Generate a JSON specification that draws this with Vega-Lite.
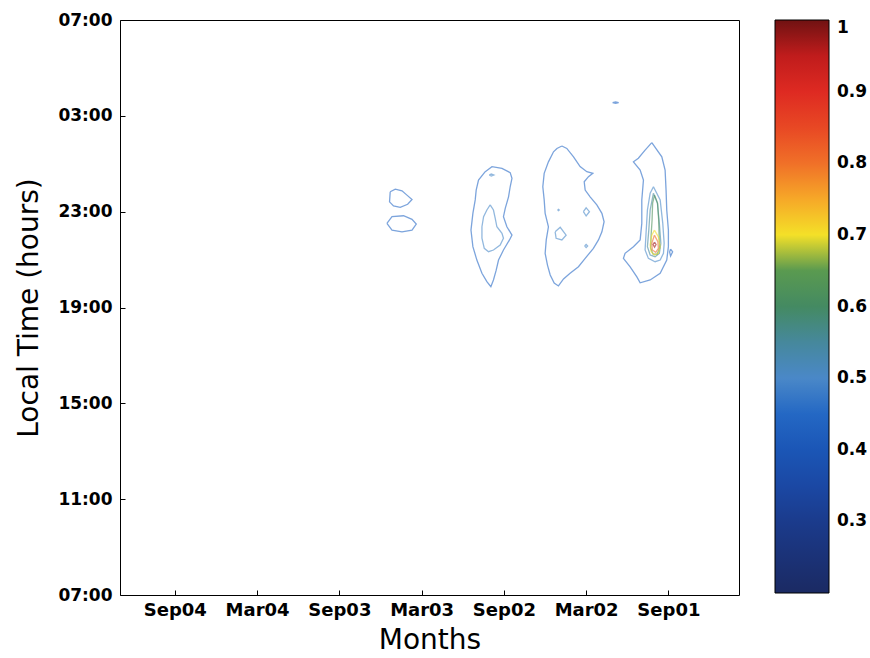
{
  "$schema": "https://vega.github.io/schema/vega-lite/v6.json",
  "autosize": "none",
  "padding": {"left": 120, "top": 20, "right": 131, "bottom": 63},
  "width": 619,
  "height": 575,
  "background": "white",
  "config": {
    "view": {"stroke": "#000", "strokeWidth": 1},
    "axis": {
      "labelFont": "DejaVu Sans", "labelFontWeight": "bold", "labelFontSize": 17, "labelColor": "#000",
      "titleFont": "DejaVu Sans", "titleFontWeight": "normal", "titleFontSize": 28, "titleColor": "#000",
      "tickColor": "#000", "grid": false, "domain": false
    }
  },
  "data": {"values": [
    {"c":"A1","v":0.45,"i":0,"m":28.29,"h":23.83},{"c":"A1","v":0.45,"i":1,"m":27.92,"h":23.94},{"c":"A1","v":0.45,"i":2,"m":27.43,"h":23.87},{"c":"A1","v":0.45,"i":3,"m":27.07,"h":23.69},{"c":"A1","v":0.45,"i":4,"m":26.70,"h":23.51},{"c":"A1","v":0.45,"i":5,"m":27.02,"h":23.31},{"c":"A1","v":0.45,"i":6,"m":27.56,"h":23.18},{"c":"A1","v":0.45,"i":7,"m":28.05,"h":23.24},{"c":"A1","v":0.45,"i":8,"m":28.34,"h":23.41},{"c":"A1","v":0.45,"i":9,"m":28.29,"h":23.83},
    {"c":"A2","v":0.45,"i":0,"m":28.53,"h":22.51},{"c":"A2","v":0.45,"i":1,"m":28.16,"h":22.79},{"c":"A2","v":0.45,"i":2,"m":27.32,"h":22.83},{"c":"A2","v":0.45,"i":3,"m":26.70,"h":22.68},{"c":"A2","v":0.45,"i":4,"m":26.39,"h":22.48},{"c":"A2","v":0.45,"i":5,"m":26.70,"h":22.23},{"c":"A2","v":0.45,"i":6,"m":27.43,"h":22.16},{"c":"A2","v":0.45,"i":7,"m":28.16,"h":22.23},{"c":"A2","v":0.45,"i":8,"m":28.53,"h":22.51},
    {"c":"B1","v":0.45,"i":0,"m":21.36,"h":24.67},{"c":"B1","v":0.45,"i":1,"m":20.87,"h":24.88},{"c":"B1","v":0.45,"i":2,"m":20.14,"h":24.81},{"c":"B1","v":0.45,"i":3,"m":19.54,"h":24.63},{"c":"B1","v":0.45,"i":4,"m":19.41,"h":24.39},{"c":"B1","v":0.45,"i":5,"m":19.54,"h":24.04},{"c":"B1","v":0.45,"i":6,"m":19.66,"h":23.62},{"c":"B1","v":0.45,"i":7,"m":19.90,"h":23.14},{"c":"B1","v":0.45,"i":8,"m":20.03,"h":22.79},{"c":"B1","v":0.45,"i":9,"m":19.78,"h":22.37},{"c":"B1","v":0.45,"i":10,"m":19.41,"h":22.02},{"c":"B1","v":0.45,"i":11,"m":19.59,"h":21.82},{"c":"B1","v":0.45,"i":12,"m":20.03,"h":21.40},{"c":"B1","v":0.45,"i":13,"m":20.39,"h":20.98},{"c":"B1","v":0.45,"i":14,"m":20.56,"h":20.56},{"c":"B1","v":0.45,"i":15,"m":20.76,"h":20.15},{"c":"B1","v":0.45,"i":16,"m":20.95,"h":19.87},{"c":"B1","v":0.45,"i":17,"m":21.24,"h":20.08},{"c":"B1","v":0.45,"i":18,"m":21.60,"h":20.43},{"c":"B1","v":0.45,"i":19,"m":21.97,"h":20.98},{"c":"B1","v":0.45,"i":20,"m":22.26,"h":21.54},{"c":"B1","v":0.45,"i":21,"m":22.40,"h":22.23},{"c":"B1","v":0.45,"i":22,"m":22.26,"h":22.93},{"c":"B1","v":0.45,"i":23,"m":22.09,"h":23.49},{"c":"B1","v":0.45,"i":24,"m":22.02,"h":23.90},{"c":"B1","v":0.45,"i":25,"m":21.85,"h":24.32},{"c":"B1","v":0.45,"i":26,"m":21.36,"h":24.67},
    {"c":"B2","v":0.5,"i":0,"m":21.07,"h":24.53},{"c":"B2","v":0.5,"i":1,"m":20.92,"h":24.57},{"c":"B2","v":0.5,"i":2,"m":20.74,"h":24.53},{"c":"B2","v":0.5,"i":3,"m":20.92,"h":24.49},{"c":"B2","v":0.5,"i":4,"m":21.07,"h":24.53},
    {"c":"B3","v":0.5,"i":0,"m":21.00,"h":23.28},{"c":"B3","v":0.5,"i":1,"m":20.76,"h":23.07},{"c":"B3","v":0.5,"i":2,"m":20.63,"h":22.72},{"c":"B3","v":0.5,"i":3,"m":20.51,"h":22.37},{"c":"B3","v":0.5,"i":4,"m":20.14,"h":22.10},{"c":"B3","v":0.5,"i":5,"m":20.03,"h":21.89},{"c":"B3","v":0.5,"i":6,"m":20.27,"h":21.61},{"c":"B3","v":0.5,"i":7,"m":20.76,"h":21.40},{"c":"B3","v":0.5,"i":8,"m":21.12,"h":21.33},{"c":"B3","v":0.5,"i":9,"m":21.43,"h":21.47},{"c":"B3","v":0.5,"i":10,"m":21.60,"h":21.89},{"c":"B3","v":0.5,"i":11,"m":21.60,"h":22.37},{"c":"B3","v":0.5,"i":12,"m":21.48,"h":22.79},{"c":"B3","v":0.5,"i":13,"m":21.24,"h":23.07},{"c":"B3","v":0.5,"i":14,"m":21.00,"h":23.28},
    {"c":"C1","v":0.45,"i":0,"m":15.77,"h":25.74},{"c":"C1","v":0.45,"i":1,"m":15.41,"h":25.64},{"c":"C1","v":0.45,"i":2,"m":14.92,"h":25.29},{"c":"C1","v":0.45,"i":3,"m":14.44,"h":24.88},{"c":"C1","v":0.45,"i":4,"m":13.95,"h":24.67},{"c":"C1","v":0.45,"i":5,"m":13.51,"h":24.60},{"c":"C1","v":0.45,"i":6,"m":13.83,"h":24.46},{"c":"C1","v":0.45,"i":7,"m":14.14,"h":24.25},{"c":"C1","v":0.45,"i":8,"m":14.07,"h":23.90},{"c":"C1","v":0.45,"i":9,"m":13.71,"h":23.62},{"c":"C1","v":0.45,"i":10,"m":13.22,"h":23.28},{"c":"C1","v":0.45,"i":11,"m":12.85,"h":22.93},{"c":"C1","v":0.45,"i":12,"m":12.69,"h":22.58},{"c":"C1","v":0.45,"i":13,"m":12.85,"h":22.16},{"c":"C1","v":0.45,"i":14,"m":13.10,"h":21.82},{"c":"C1","v":0.45,"i":15,"m":13.47,"h":21.47},{"c":"C1","v":0.45,"i":16,"m":14.07,"h":21.05},{"c":"C1","v":0.45,"i":17,"m":14.56,"h":20.70},{"c":"C1","v":0.45,"i":18,"m":15.17,"h":20.43},{"c":"C1","v":0.45,"i":19,"m":15.65,"h":20.19},{"c":"C1","v":0.45,"i":20,"m":16.02,"h":19.90},{"c":"C1","v":0.45,"i":21,"m":16.33,"h":20.02},{"c":"C1","v":0.45,"i":22,"m":16.62,"h":20.36},{"c":"C1","v":0.45,"i":23,"m":16.82,"h":20.77},{"c":"C1","v":0.45,"i":24,"m":16.99,"h":21.26},{"c":"C1","v":0.45,"i":25,"m":16.91,"h":21.82},{"c":"C1","v":0.45,"i":26,"m":16.75,"h":22.37},{"c":"C1","v":0.45,"i":27,"m":16.99,"h":22.93},{"c":"C1","v":0.45,"i":28,"m":17.06,"h":23.49},{"c":"C1","v":0.45,"i":29,"m":17.16,"h":24.04},{"c":"C1","v":0.45,"i":30,"m":17.06,"h":24.60},{"c":"C1","v":0.45,"i":31,"m":16.75,"h":25.08},{"c":"C1","v":0.45,"i":32,"m":16.38,"h":25.50},{"c":"C1","v":0.45,"i":33,"m":16.13,"h":25.64},{"c":"C1","v":0.45,"i":34,"m":15.77,"h":25.74},
    {"c":"C2","v":0.5,"i":0,"m":16.08,"h":23.07},{"c":"C2","v":0.5,"i":1,"m":16.02,"h":23.10},{"c":"C2","v":0.5,"i":2,"m":15.96,"h":23.07},{"c":"C2","v":0.5,"i":3,"m":16.02,"h":23.04},{"c":"C2","v":0.5,"i":4,"m":16.08,"h":23.07},
    {"c":"C3","v":0.5,"i":0,"m":14.20,"h":23.00},{"c":"C3","v":0.5,"i":1,"m":14.00,"h":23.16},{"c":"C3","v":0.5,"i":2,"m":13.76,"h":23.00},{"c":"C3","v":0.5,"i":3,"m":14.00,"h":22.82},{"c":"C3","v":0.5,"i":4,"m":14.20,"h":23.00},
    {"c":"C4","v":0.5,"i":0,"m":16.26,"h":22.16},{"c":"C4","v":0.5,"i":1,"m":15.89,"h":22.35},{"c":"C4","v":0.5,"i":2,"m":15.46,"h":22.02},{"c":"C4","v":0.5,"i":3,"m":15.77,"h":21.82},{"c":"C4","v":0.5,"i":4,"m":16.19,"h":21.89},{"c":"C4","v":0.5,"i":5,"m":16.26,"h":22.16},
    {"c":"C5","v":0.5,"i":0,"m":14.11,"h":21.57},{"c":"C5","v":0.5,"i":1,"m":14.00,"h":21.63},{"c":"C5","v":0.5,"i":2,"m":13.89,"h":21.57},{"c":"C5","v":0.5,"i":3,"m":14.00,"h":21.50},{"c":"C5","v":0.5,"i":4,"m":14.11,"h":21.57},
    {"c":"D1","v":0.45,"i":0,"m":9.21,"h":25.88},{"c":"D1","v":0.45,"i":1,"m":8.48,"h":25.29},{"c":"D1","v":0.45,"i":2,"m":8.24,"h":24.74},{"c":"D1","v":0.45,"i":3,"m":8.17,"h":23.90},{"c":"D1","v":0.45,"i":4,"m":8.12,"h":23.07},{"c":"D1","v":0.45,"i":5,"m":8.00,"h":22.23},{"c":"D1","v":0.45,"i":6,"m":8.00,"h":21.54},{"c":"D1","v":0.45,"i":7,"m":8.12,"h":20.98},{"c":"D1","v":0.45,"i":8,"m":8.60,"h":20.43},{"c":"D1","v":0.45,"i":9,"m":9.33,"h":20.15},{"c":"D1","v":0.45,"i":10,"m":10.06,"h":20.03},{"c":"D1","v":0.45,"i":11,"m":10.30,"h":20.28},{"c":"D1","v":0.45,"i":12,"m":10.79,"h":20.70},{"c":"D1","v":0.45,"i":13,"m":11.28,"h":21.05},{"c":"D1","v":0.45,"i":14,"m":11.16,"h":21.26},{"c":"D1","v":0.45,"i":15,"m":10.55,"h":21.54},{"c":"D1","v":0.45,"i":16,"m":10.06,"h":21.82},{"c":"D1","v":0.45,"i":17,"m":9.94,"h":22.51},{"c":"D1","v":0.45,"i":18,"m":9.94,"h":23.49},{"c":"D1","v":0.45,"i":19,"m":9.82,"h":24.32},{"c":"D1","v":0.45,"i":20,"m":10.06,"h":24.74},{"c":"D1","v":0.45,"i":21,"m":10.55,"h":25.08},{"c":"D1","v":0.45,"i":22,"m":10.19,"h":25.23},{"c":"D1","v":0.45,"i":23,"m":9.70,"h":25.57},{"c":"D1","v":0.45,"i":24,"m":9.21,"h":25.88},
    {"c":"D2","v":0.45,"i":0,"m":7.84,"h":21.44},{"c":"D2","v":0.45,"i":1,"m":7.69,"h":21.32},{"c":"D2","v":0.45,"i":2,"m":7.84,"h":21.15},{"c":"D2","v":0.45,"i":3,"m":7.91,"h":21.32},{"c":"D2","v":0.45,"i":4,"m":7.84,"h":21.44},
    {"c":"D3","v":0.5,"i":0,"m":9.09,"h":24.04},{"c":"D3","v":0.5,"i":1,"m":8.60,"h":23.49},{"c":"D3","v":0.5,"i":2,"m":8.41,"h":22.51},{"c":"D3","v":0.5,"i":3,"m":8.31,"h":21.68},{"c":"D3","v":0.5,"i":4,"m":8.36,"h":21.26},{"c":"D3","v":0.5,"i":5,"m":8.60,"h":20.98},{"c":"D3","v":0.5,"i":6,"m":8.97,"h":20.91},{"c":"D3","v":0.5,"i":7,"m":9.46,"h":21.05},{"c":"D3","v":0.5,"i":8,"m":9.70,"h":21.40},{"c":"D3","v":0.5,"i":9,"m":9.63,"h":22.10},{"c":"D3","v":0.5,"i":10,"m":9.53,"h":23.07},{"c":"D3","v":0.5,"i":11,"m":9.33,"h":23.77},{"c":"D3","v":0.5,"i":12,"m":9.09,"h":24.04},
    {"c":"D4","v":0.55,"i":0,"m":9.09,"h":23.77},{"c":"D4","v":0.55,"i":1,"m":8.80,"h":23.35},{"c":"D4","v":0.55,"i":2,"m":8.66,"h":22.51},{"c":"D4","v":0.55,"i":3,"m":8.55,"h":21.68},{"c":"D4","v":0.55,"i":4,"m":8.66,"h":21.26},{"c":"D4","v":0.55,"i":5,"m":8.97,"h":21.12},{"c":"D4","v":0.55,"i":6,"m":9.33,"h":21.19},{"c":"D4","v":0.55,"i":7,"m":9.53,"h":21.54},{"c":"D4","v":0.55,"i":8,"m":9.43,"h":22.23},{"c":"D4","v":0.55,"i":9,"m":9.33,"h":23.07},{"c":"D4","v":0.55,"i":10,"m":9.09,"h":23.77},
    {"c":"D5","v":0.62,"i":0,"m":9.01,"h":23.69},{"c":"D5","v":0.62,"i":1,"m":8.79,"h":23.36},{"c":"D5","v":0.62,"i":2,"m":8.71,"h":22.65},{"c":"D5","v":0.62,"i":3,"m":8.68,"h":22.02},{"c":"D5","v":0.62,"i":4,"m":8.64,"h":21.48},{"c":"D5","v":0.62,"i":5,"m":8.82,"h":21.23},{"c":"D5","v":0.62,"i":6,"m":9.12,"h":21.23},{"c":"D5","v":0.62,"i":7,"m":9.30,"h":21.48},{"c":"D5","v":0.62,"i":8,"m":9.26,"h":22.02},{"c":"D5","v":0.62,"i":9,"m":9.19,"h":22.65},{"c":"D5","v":0.62,"i":10,"m":9.15,"h":23.36},{"c":"D5","v":0.62,"i":11,"m":9.01,"h":23.69},
    {"c":"D6","v":0.7,"i":0,"m":9.02,"h":22.23},{"c":"D6","v":0.7,"i":1,"m":8.73,"h":21.95},{"c":"D6","v":0.7,"i":2,"m":8.60,"h":21.54},{"c":"D6","v":0.7,"i":3,"m":8.73,"h":21.26},{"c":"D6","v":0.7,"i":4,"m":9.02,"h":21.19},{"c":"D6","v":0.7,"i":5,"m":9.26,"h":21.33},{"c":"D6","v":0.7,"i":6,"m":9.33,"h":21.61},{"c":"D6","v":0.7,"i":7,"m":9.21,"h":22.02},{"c":"D6","v":0.7,"i":8,"m":9.02,"h":22.23},
    {"c":"D7","v":0.8,"i":0,"m":9.02,"h":22.02},{"c":"D7","v":0.8,"i":1,"m":8.77,"h":21.75},{"c":"D7","v":0.8,"i":2,"m":8.73,"h":21.47},{"c":"D7","v":0.8,"i":3,"m":8.92,"h":21.30},{"c":"D7","v":0.8,"i":4,"m":9.17,"h":21.40},{"c":"D7","v":0.8,"i":5,"m":9.21,"h":21.68},{"c":"D7","v":0.8,"i":6,"m":9.02,"h":22.02},
    {"c":"D8","v":0.97,"i":0,"m":9.01,"h":21.73},{"c":"D8","v":0.97,"i":1,"m":8.90,"h":21.63},{"c":"D8","v":0.97,"i":2,"m":9.01,"h":21.52},{"c":"D8","v":0.97,"i":3,"m":9.12,"h":21.63},{"c":"D8","v":0.97,"i":4,"m":9.01,"h":21.73},
    {"c":"E1","v":0.45,"i":0,"m":12.07,"h":27.55},{"c":"E1","v":0.45,"i":1,"m":11.85,"h":27.58},{"c":"E1","v":0.45,"i":2,"m":11.63,"h":27.55},{"c":"E1","v":0.45,"i":3,"m":11.85,"h":27.52},{"c":"E1","v":0.45,"i":4,"m":12.07,"h":27.55}
  ]},
  "mark": {"type": "line", "strokeWidth": 1.3, "strokeOpacity": 0.6, "interpolate": "linear"},
  "encoding": {
    "x": {
      "field": "m", "type": "quantitative",
      "scale": {"domain": [2.85, 48], "reverse": true, "nice": false, "zero": false},
      "axis": {
        "title": "Months",
        "values": [8, 14, 20, 26, 32, 38, 44],
        "labelExpr": "['Jan','Feb','Mar','Apr','May','Jun','Jul','Aug','Sep','Oct','Nov','Dec'][datum.value % 12] + '0' + (floor(datum.value / 12) + 1)",
        "labelFontSize": 18,
        "tickSize": -5, "labelPadding": 11, "titlePadding": 7, "labelFlush": false
      }
    },
    "y": {
      "field": "h", "type": "quantitative",
      "scale": {"domain": [7, 31], "nice": false, "zero": false},
      "axis": {
        "title": "Local Time (hours)",
        "values": [7, 11, 15, 19, 23, 27, 31],
        "labelExpr": "(datum.value % 24 < 10 ? '0' : '') + (datum.value % 24) + ':00'",
        "tickSize": -5, "labelPadding": 13, "titlePadding": 14, "labelFlush": false
      }
    },
    "detail": {"field": "c"},
    "order": {"field": "i", "type": "quantitative"},
    "color": {
      "field": "v", "type": "quantitative",
      "scale": {
        "domain": [0.2, 0.25, 0.3, 0.35, 0.4, 0.45, 0.5, 0.55, 0.6, 0.65, 0.68, 0.7, 0.75, 0.8, 0.85, 0.9, 0.95, 1.0],
        "range": ["#1b2a63", "#1b3277", "#1b3b8c", "#1b48a4", "#1b56b6", "#2468c4", "#4a88c8", "#46889c", "#448a62", "#5a9a50", "#b0c048", "#f4e028", "#f6a828", "#f07028", "#e84824", "#de2a22", "#c01c1c", "#701212"],
        "interpolate": "rgb"
      },
      "legend": {
        "title": null,
        "orient": "none", "legendX": 655, "legendY": 0,
        "direction": "vertical",
        "gradientLength": 573, "gradientThickness": 54,
        "gradientStrokeColor": "#000", "gradientStrokeWidth": 1,
        "values": [0.3, 0.4, 0.5, 0.6, 0.7, 0.8, 0.9, 1],
        "format": "~g",
        "labelFont": "DejaVu Sans", "labelFontWeight": "bold", "labelFontSize": 17, "labelColor": "#000",
        "labelOffset": 8, "padding": 0, "labelOverlap": false,
        "encode": {"gradient": {"update": {"opacity": {"value": 1}, "fillOpacity": {"value": 1}}}}
      }
    }
  }
}
